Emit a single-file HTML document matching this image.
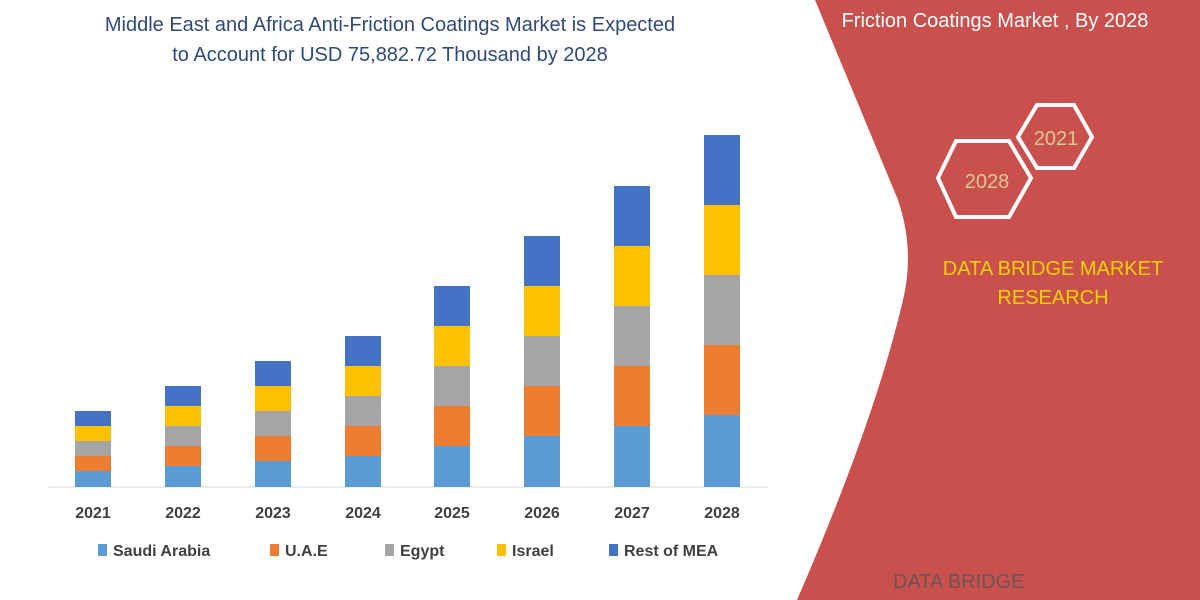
<!DOCTYPE html>
<html><head><style>
body{margin:0;width:1200px;height:600px;overflow:hidden;background:#fff;font-family:"Liberation Sans",sans-serif;}
</style></head><body>
<svg width="1200" height="600" xmlns="http://www.w3.org/2000/svg" style="position:absolute;left:0;top:0">
<path d="M815,0 L1200,0 L1200,600 L797,600 Q875,420 903,300 Q915,250 898,200 Z" fill="#c9504c"/>
<text x="995" y="27" font-size="20" fill="#fff" text-anchor="middle">Friction Coatings Market , By 2028</text>
<polygon points="1037,105 1074,105 1092,137 1074,168 1037,168 1018,137" fill="none" stroke="#fff" stroke-width="4"/>
<polygon points="956,141 1009,141 1031,178 1009,217 956,217 938,178" fill="none" stroke="#fff" stroke-width="4"/>
<text x="1056" y="145" font-size="20" fill="#d9c79a" text-anchor="middle">2021</text>
<text x="987" y="188" font-size="20" fill="#d9c79a" text-anchor="middle">2028</text>
<text x="1053" y="275" font-size="20" fill="#f5d000" text-anchor="middle">DATA BRIDGE MARKET</text>
<text x="1053" y="304" font-size="20" fill="#f5d000" text-anchor="middle">RESEARCH</text>
<text x="893" y="588" font-size="20" fill="#555" opacity="0.8">DATA BRIDGE</text>
<text x="390" y="31" font-size="20" fill="#2f4a7a" text-anchor="middle">Middle East and Africa Anti-Friction Coatings Market is Expected</text>
<text x="390" y="61" font-size="20" fill="#2f4a7a" text-anchor="middle">to Account for USD 75,882.72 Thousand by 2028</text>
<line x1="48" y1="487" x2="768" y2="487" stroke="#d9d9d9" stroke-width="1"/>
<g font-size="16" font-weight="bold" fill="#404040" text-anchor="middle">
<text x="93" y="518">2021</text><text x="183" y="518">2022</text><text x="273" y="518">2023</text><text x="363" y="518">2024</text><text x="452" y="518">2025</text><text x="542" y="518">2026</text><text x="632" y="518">2027</text><text x="722" y="518">2028</text>
</g>
<g font-size="16" font-weight="bold" fill="#404040">
<rect x="98" y="544" width="9" height="12" fill="#5b9bd5"/><text x="113" y="556">Saudi Arabia</text>
<rect x="270" y="544" width="9" height="12" fill="#ed7d31"/><text x="285" y="556">U.A.E</text>
<rect x="385" y="544" width="9" height="12" fill="#a5a5a5"/><text x="400" y="556">Egypt</text>
<rect x="497" y="544" width="9" height="12" fill="#ffc000"/><text x="512" y="556">Israel</text>
<rect x="609" y="544" width="9" height="12" fill="#4472c4"/><text x="624" y="556">Rest of MEA</text>
</g>
<g>
<rect x="75" y="411" width="36" height="15" fill="#4472c4"/><rect x="75" y="426" width="36" height="15" fill="#ffc000"/><rect x="75" y="441" width="36" height="15" fill="#a5a5a5"/><rect x="75" y="456" width="36" height="15" fill="#ed7d31"/><rect x="75" y="471" width="36" height="16" fill="#5b9bd5"/>
<rect x="165" y="386" width="36" height="20" fill="#4472c4"/><rect x="165" y="406" width="36" height="20" fill="#ffc000"/><rect x="165" y="426" width="36" height="20" fill="#a5a5a5"/><rect x="165" y="446" width="36" height="20" fill="#ed7d31"/><rect x="165" y="466" width="36" height="21" fill="#5b9bd5"/>
<rect x="255" y="361" width="36" height="25" fill="#4472c4"/><rect x="255" y="386" width="36" height="25" fill="#ffc000"/><rect x="255" y="411" width="36" height="25" fill="#a5a5a5"/><rect x="255" y="436" width="36" height="25" fill="#ed7d31"/><rect x="255" y="461" width="36" height="26" fill="#5b9bd5"/>
<rect x="345" y="336" width="36" height="30" fill="#4472c4"/><rect x="345" y="366" width="36" height="30" fill="#ffc000"/><rect x="345" y="396" width="36" height="30" fill="#a5a5a5"/><rect x="345" y="426" width="36" height="30" fill="#ed7d31"/><rect x="345" y="456" width="36" height="31" fill="#5b9bd5"/>
<rect x="434" y="286" width="36" height="40" fill="#4472c4"/><rect x="434" y="326" width="36" height="40" fill="#ffc000"/><rect x="434" y="366" width="36" height="40" fill="#a5a5a5"/><rect x="434" y="406" width="36" height="40" fill="#ed7d31"/><rect x="434" y="446" width="36" height="41" fill="#5b9bd5"/>
<rect x="524" y="236" width="36" height="50" fill="#4472c4"/><rect x="524" y="286" width="36" height="50" fill="#ffc000"/><rect x="524" y="336" width="36" height="50" fill="#a5a5a5"/><rect x="524" y="386" width="36" height="50" fill="#ed7d31"/><rect x="524" y="436" width="36" height="51" fill="#5b9bd5"/>
<rect x="614" y="186" width="36" height="60" fill="#4472c4"/><rect x="614" y="246" width="36" height="60" fill="#ffc000"/><rect x="614" y="306" width="36" height="60" fill="#a5a5a5"/><rect x="614" y="366" width="36" height="60" fill="#ed7d31"/><rect x="614" y="426" width="36" height="61" fill="#5b9bd5"/>
<rect x="704" y="135" width="36" height="70" fill="#4472c4"/><rect x="704" y="205" width="36" height="70" fill="#ffc000"/><rect x="704" y="275" width="36" height="70" fill="#a5a5a5"/><rect x="704" y="345" width="36" height="70" fill="#ed7d31"/><rect x="704" y="415" width="36" height="72" fill="#5b9bd5"/>
</g>
</svg>
</body></html>
